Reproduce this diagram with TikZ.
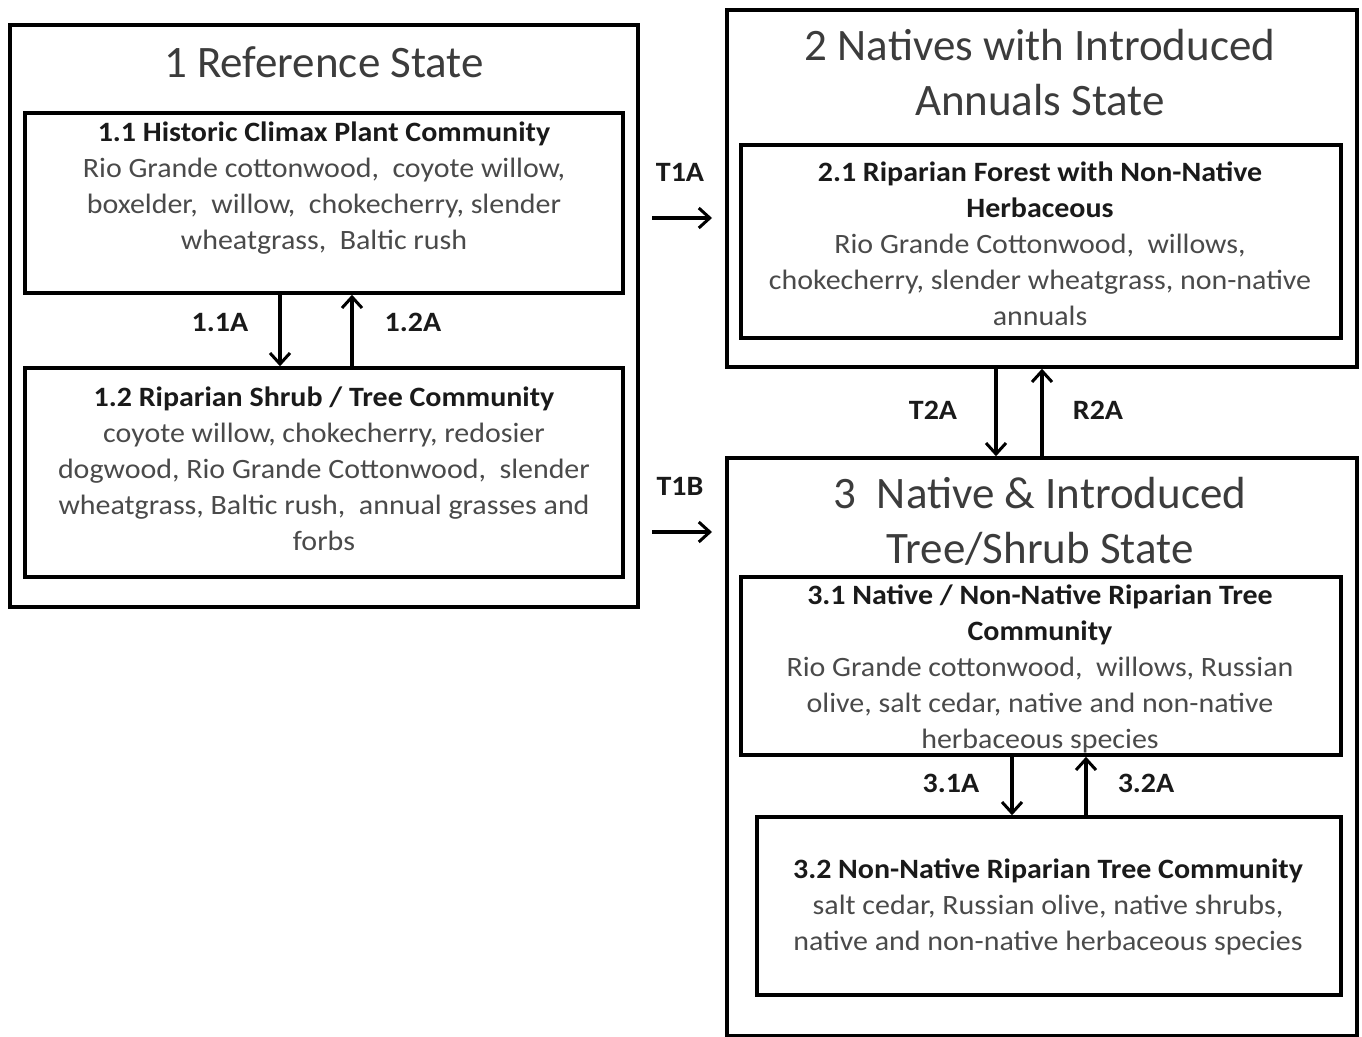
\documentclass[tikz,border=0pt]{standalone}
\usepackage{fontspec}
\setmainfont{Carlito}
\newfontfamily\widefont[FakeStretch=1.07]{Carlito}
\usetikzlibrary{arrows.meta}
\definecolor{bodygray}{HTML}{4A4A4A}
\definecolor{headblack}{HTML}{1A1A1A}
\tikzset{
  boxline/.style={draw=black, line width=3.5pt, inner sep=0pt, fill=none},
  titletext/.style={align=center, text=headblack!85, font=\fontsize{45}{55}\selectfont},
  bodytext/.style={align=center, text=bodygray, font=\widefont\fontsize{28}{36}\selectfont, inner sep=0pt},
  lbl/.style={text=headblack, font=\widefont\bfseries\fontsize{28}{30}\selectfont, inner sep=0pt},
  arr/.style={line width=3.5pt, -{Straight Barb[length=11pt,width=20pt,line width=3pt]}},
}
\newcommand{\hd}[1]{{\color{headblack}\bfseries #1}}
\begin{document}
\begin{tikzpicture}[x=1pt,y=-1pt]
\useasboundingbox (0,0) rectangle (1362,1036);
\fill[white] (0,0) rectangle (1362,1036);

% State boxes
\node[boxline, minimum width=628pt, minimum height=582pt] (s1) at (324,316) {};
\node[boxline, minimum width=630pt, minimum height=357pt] (s2) at (1042,188.5) {};
\node[boxline, minimum width=630pt, minimum height=578pt] (s3) at (1042,747) {};

% Community boxes
\node[boxline, minimum width=598pt, minimum height=180pt] (b11) at (324,203) {};
\node[boxline, minimum width=598pt, minimum height=209pt] (b12) at (324,472.5) {};
\node[boxline, minimum width=600pt, minimum height=193pt] (b21) at (1041,241.5) {};
\node[boxline, minimum width=600pt, minimum height=178pt] (b31) at (1041,666) {};
\node[boxline, minimum width=584pt, minimum height=178pt] (b32) at (1049,906) {};

% Titles
\node[titletext] (t1) at (324,62) {1 Reference State};
\node[titletext] (t2) at (1040,73) {2 Natives with Introduced\\Annuals State};
\node[titletext] (t3) at (1040,521) {3~~Native \& Introduced\\Tree/Shrub State};

% Community texts
\node[bodytext] (x11) at (324,188) {\hd{1.1 Historic Climax Plant Community}\\
Rio Grande cottonwood,~ coyote willow,\\
boxelder,~ willow,~ chokecherry, slender\\
wheatgrass,~ Baltic rush};
\node[bodytext] (x12) at (324,469) {\hd{1.2 Riparian Shrub / Tree Community}\\
coyote willow, chokecherry, redosier\\
dogwood, Rio Grande Cottonwood,~ slender\\
wheatgrass, Baltic rush,~ annual grasses and\\
forbs};
\node[bodytext] (x21) at (1040,244) {\hd{2.1 Riparian Forest with Non-Native}\\
\hd{Herbaceous}\\
Rio Grande Cottonwood,~ willows,\\
chokecherry, slender wheatgrass, non-native\\
annuals};
\node[bodytext] (x31) at (1040,669) {\hd{3.1 Native / Non-Native Riparian Tree}\\
\hd{Community}\\
Rio Grande cottonwood,~ willows, Russian\\
olive, salt cedar, native and non-native\\
herbaceous species};
\node[bodytext] (x32) at (1048,907) {\hd{3.2 Non-Native Riparian Tree Community}\\
salt cedar, Russian olive, native shrubs,\\
native and non-native herbaceous species};

% Transition labels
\node[lbl] (lT1A) at (680,172) {T1A};
\node[lbl] (lT1B) at (680,486) {T1B};
\node[lbl] (l11A) at (220,322) {1.1A};
\node[lbl] (l12A) at (413,322) {1.2A};
\node[lbl] (lT2A) at (933,410) {T2A};
\node[lbl] (lR2A) at (1098,410) {R2A};
\node[lbl] (l31A) at (951,783) {3.1A};
\node[lbl] (l32A) at (1146,783) {3.2A};

% Free-end coordinates for horizontal transitions
\coordinate (t1aS) at (652,218);
\coordinate (t1aE) at (712,218);
\coordinate (t1bS) at (652,532);
\coordinate (t1bE) at (712,532);

% Arrows
\draw[arr] (t1aS) -- (t1aE);
\draw[arr] (t1bS) -- (t1bE);
\draw[arr] (b11.south -| 280,0) -- (b12.north -| 280,0);
\draw[arr] (b12.north -| 352,0) -- (b11.south -| 352,0);
\draw[arr] (s2.south -| 996,0) -- (s3.north -| 996,0);
\draw[arr] (s3.north -| 1042,0) -- (s2.south -| 1042,0);
\draw[arr] (b31.south -| 1012,0) -- (b32.north -| 1012,0);
\draw[arr] (b32.north -| 1086,0) -- (b31.south -| 1086,0);
\end{tikzpicture}
\end{document}
